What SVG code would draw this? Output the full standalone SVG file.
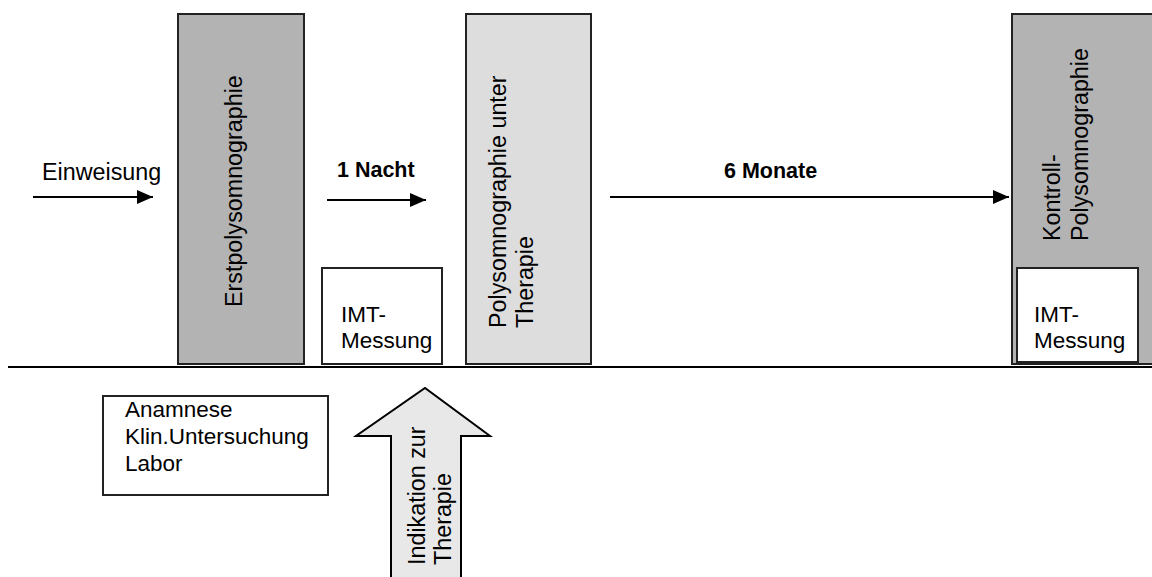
<svg xmlns="http://www.w3.org/2000/svg" width="1152" height="577" viewBox="0 0 1152 577">
  <style>
    text { font-family: "Liberation Sans", Arial, sans-serif; font-size: 23.3px; fill: #000; }
    .bold { font-weight: bold; font-size: 21.5px; }
    .small { font-size: 22.5px; }
    .box { stroke: #222; stroke-width: 2; }
    .dark { fill: #b3b3b3; }
    .light { fill: #dddddd; }
    .white { fill: #fff; }
    .conn { stroke: #000; stroke-width: 2; fill: none; }
  </style>
  <defs>
    <marker id="head" markerUnits="userSpaceOnUse" markerWidth="16" markerHeight="16" refX="16" refY="8" orient="auto">
      <path d="M0,1 L16,8 L0,15 Z" fill="#000"/>
    </marker>
  </defs>
  <rect width="1152" height="577" fill="#fff"/>

  <!-- time axis -->
  <line x1="8" y1="367" x2="1152" y2="367" stroke="#000" stroke-width="2"/>

  <g id="connectors">
    <line class="conn" x1="33" y1="197" x2="153" y2="197" marker-end="url(#head)"/>
    <line class="conn" x1="327" y1="200" x2="426" y2="200" marker-end="url(#head)"/>
    <line class="conn" x1="610" y1="197" x2="1009" y2="197" marker-end="url(#head)"/>
  </g>

  <g id="label-einweisung">
    <text x="42" y="180">Einweisung</text>
  </g>
  <g id="label-1-nacht">
    <text class="bold" x="337" y="177">1 Nacht</text>
  </g>
  <g id="label-6-monate">
    <text class="bold" x="724" y="178">6 Monate</text>
  </g>

  <g id="erstpolysomnographie">
    <rect class="box dark" x="178" y="14" width="126" height="350"/>
    <text transform="translate(242,307) rotate(-90)">Erstpolysomnographie</text>
  </g>

  <g id="imt-messung-1">
    <rect class="box white" x="322" y="268" width="120" height="96"/>
    <text class="small" x="341" y="322">IMT-</text>
    <text class="small" x="341" y="348">Messung</text>
  </g>

  <g id="polysomnographie-unter-therapie">
    <rect class="box light" x="466" y="14" width="125" height="350"/>
    <text transform="translate(506,328) rotate(-90)">
      <tspan x="0" y="0">Polysomnographie unter</tspan>
      <tspan x="0" y="26.5">Therapie</tspan>
    </text>
  </g>

  <g id="kontroll-polysomnographie">
    <rect class="box dark" x="1012" y="14" width="150" height="350"/>
    <text transform="translate(1060,241) rotate(-90)">
      <tspan x="0" y="0">Kontroll-</tspan>
      <tspan x="0" y="28">Polysomnographie</tspan>
    </text>
  </g>

  <g id="imt-messung-2">
    <rect class="box white" x="1017" y="268" width="121" height="94"/>
    <text class="small" x="1034" y="322">IMT-</text>
    <text class="small" x="1034" y="348">Messung</text>
  </g>

  <g id="anamnese">
    <rect class="box white" x="103" y="396" width="225" height="99"/>
    <text class="small" x="125" y="417">Anamnese</text>
    <text class="small" x="125" y="444">Klin.Untersuchung</text>
    <text class="small" x="125" y="471">Labor</text>
  </g>

  <g id="indikation-zur-therapie">
    <path d="M391,580 L391,436 L356,436 L425,388 L490,436 L461,436 L461,580" fill="#e8e8e8" stroke="#000" stroke-width="2"/>
    <text transform="translate(425,565) rotate(-90)">
      <tspan x="0" y="0">Indikation zur</tspan>
      <tspan x="0" y="26">Therapie</tspan>
    </text>
  </g>
</svg>
